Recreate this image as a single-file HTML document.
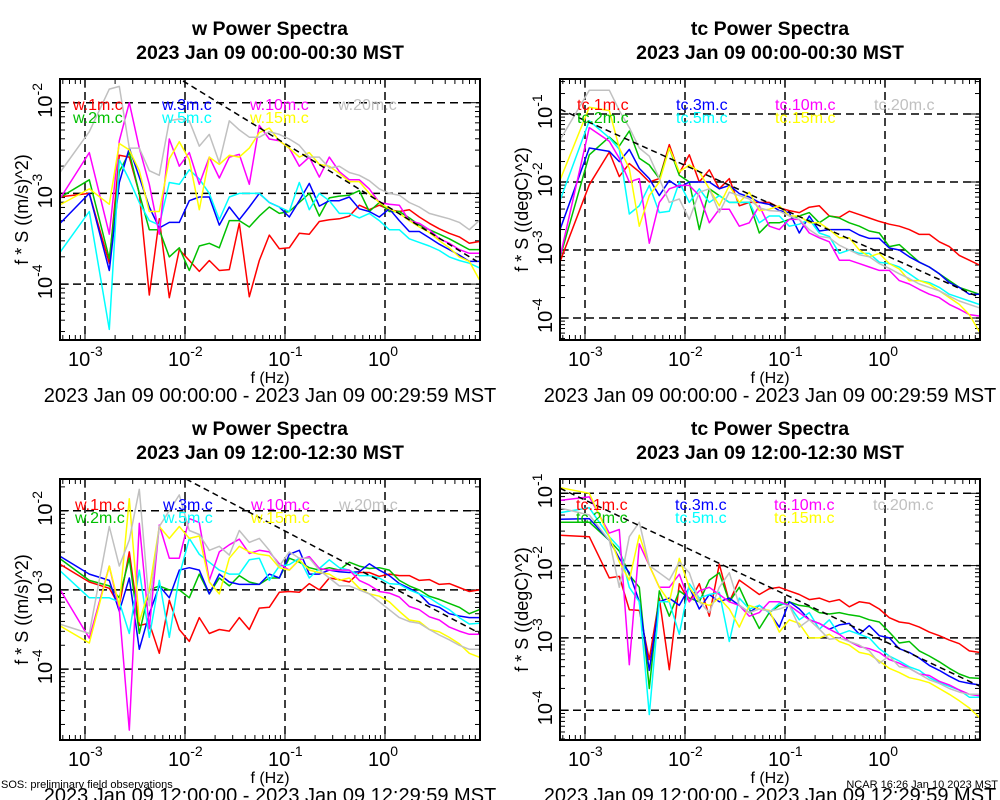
<!DOCTYPE html>
<html><head><meta charset="utf-8"><style>
html,body{margin:0;padding:0;background:#fff}
svg{display:block;font-family:"Liberation Sans",sans-serif}
</style></head><body>
<svg id="fig" width="1000" height="800" viewBox="0 0 1000 800" xmlns="http://www.w3.org/2000/svg">
<rect x="0" y="0" width="1000" height="800" fill="#fff"/>
<text x="1" y="788" font-size="11">SOS: preliminary field observations</text>
<text x="998" y="788" font-size="11" text-anchor="end">NCAR 16:26 Jan 10 2023 MST</text>
</svg>
<script>
// log10 frequency (Hz) of each spectral estimate
const freqLog = [-3.257,-2.957,-2.757,-2.657,-2.557,-2.457,-2.357,-2.257,-2.157,-2.057,-1.957,-1.857,-1.757,-1.657,-1.557,-1.457,-1.357,-1.257,-1.157,-1.057,-0.957,-0.857,-0.757,-0.657,-0.557,-0.457,-0.357,-0.257,-0.157,-0.057,0.043,0.143,0.243,0.343,0.443,0.543,0.643,0.743,0.843,0.943];
const seriesColors = ["#ff0000","#00c000","#0000ff","#00ffff","#ff00ff","#ffff00","#c0c0c0"];
const heights = ["1m","2m","3m","5m","10m","15m","20m"];
const xTickLabels = ["-3","-2","-1","0"];

// log10 of f*S, panel: w 00:00
const w00_1m = [-3.04,-3.00,-3.77,-2.58,-2.60,-3.00,-4.12,-3.28,-4.15,-3.62,-3.74,-3.86,-3.74,-3.85,-3.84,-3.33,-4.14,-3.74,-3.46,-3.61,-3.60,-3.44,-3.45,-3.31,-3.29,-3.28,-3.25,-3.13,-3.18,-3.13,-3.18,-3.20,-3.18,-3.26,-3.33,-3.39,-3.44,-3.48,-3.55,-3.53];
const w00_2m = [-3.05,-2.85,-3.72,-2.76,-2.55,-3.00,-3.40,-3.40,-3.70,-3.60,-3.85,-3.58,-3.55,-3.60,-3.30,-3.30,-3.37,-3.25,-3.15,-3.22,-3.20,-3.10,-3.00,-3.25,-3.05,-3.03,-3.02,-2.97,-3.20,-3.10,-3.20,-3.20,-3.27,-3.35,-3.40,-3.45,-3.50,-3.56,-3.62,-3.62];
const w00_3m = [-3.34,-3.00,-3.85,-2.88,-2.50,-2.82,-3.15,-3.38,-3.32,-3.32,-3.08,-3.04,-3.04,-3.35,-3.15,-3.29,-3.15,-3.00,-3.10,-3.15,-3.26,-3.08,-2.89,-3.14,-3.08,-3.08,-3.04,-3.17,-3.20,-3.26,-3.17,-3.30,-3.42,-3.42,-3.49,-3.56,-3.62,-3.68,-3.75,-3.75];
const w00_5m = [-3.66,-3.20,-4.50,-2.63,-2.85,-3.10,-3.30,-3.35,-2.88,-2.90,-2.74,-2.84,-3.00,-3.29,-3.04,-3.00,-3.00,-3.00,-3.10,-3.15,-3.20,-2.88,-3.18,-3.00,-3.08,-3.22,-3.22,-3.27,-3.22,-3.30,-3.40,-3.40,-3.50,-3.54,-3.58,-3.63,-3.70,-3.74,-3.77,-3.82];
const w00_10m = [-3.07,-2.55,-3.45,-2.42,-2.00,-2.50,-2.90,-3.45,-2.40,-2.70,-2.55,-2.90,-2.60,-2.83,-2.60,-2.57,-2.90,-2.25,-2.40,-2.42,-2.50,-2.70,-2.60,-2.82,-2.60,-2.76,-2.85,-2.85,-2.95,-3.10,-3.12,-3.13,-3.30,-3.33,-3.40,-3.50,-3.55,-3.62,-3.66,-3.66];
const w00_15m = [-3.13,-2.95,-3.12,-2.45,-2.52,-2.75,-3.20,-3.20,-2.62,-2.43,-2.63,-3.18,-2.60,-2.68,-2.58,-2.60,-2.50,-2.33,-2.28,-2.42,-2.50,-2.60,-2.55,-2.68,-2.70,-2.78,-2.87,-2.87,-3.00,-3.10,-3.17,-3.22,-3.30,-3.37,-3.43,-3.52,-3.60,-3.70,-3.75,-3.95];
const w00_20m = [-2.78,-2.32,-1.85,-1.82,-2.50,-2.50,-2.75,-2.80,-2.20,-2.18,-2.20,-2.48,-2.35,-2.66,-2.20,-2.30,-2.38,-2.38,-2.32,-2.35,-2.40,-2.47,-2.60,-2.60,-2.72,-2.70,-2.77,-2.80,-2.86,-2.95,-3.00,-3.02,-3.10,-3.15,-3.22,-3.25,-3.28,-3.32,-3.40,-3.30];

// panel: tc 00:00
const tc00_1m = [-3.20,-2.04,-1.56,-1.92,-1.73,-1.85,-2.00,-1.95,-1.45,-1.87,-1.60,-2.00,-1.82,-2.10,-1.95,-2.35,-2.30,-2.30,-2.30,-2.38,-2.42,-2.45,-2.37,-2.35,-2.50,-2.52,-2.43,-2.48,-2.53,-2.58,-2.62,-2.65,-2.70,-2.77,-2.77,-2.88,-2.95,-3.08,-3.15,-3.22];
const tc00_2m = [-3.15,-1.60,-1.34,-1.47,-1.25,-1.65,-1.75,-1.95,-1.50,-1.90,-2.00,-2.70,-2.10,-2.20,-2.30,-2.30,-2.30,-2.75,-2.60,-2.60,-2.55,-2.50,-2.45,-2.60,-2.50,-2.53,-2.60,-2.65,-2.72,-2.75,-2.95,-2.92,-3.05,-3.18,-3.25,-3.35,-3.45,-3.55,-3.60,-3.65];
const tc00_3m = [-2.73,-1.50,-1.55,-1.70,-1.52,-1.80,-1.95,-2.20,-1.98,-2.08,-2.00,-2.00,-2.00,-2.10,-2.05,-2.17,-2.22,-2.30,-2.33,-2.42,-2.45,-2.75,-2.50,-2.72,-2.70,-2.70,-2.70,-2.78,-2.83,-2.83,-2.97,-3.00,-3.10,-3.18,-3.25,-3.35,-3.48,-3.55,-3.65,-3.65];
const tc00_5m = [-2.30,-1.10,-1.35,-1.52,-2.47,-2.35,-2.05,-2.45,-2.43,-2.00,-2.30,-2.10,-2.30,-2.20,-2.30,-2.30,-2.30,-2.60,-2.50,-2.50,-2.65,-2.62,-2.55,-2.75,-2.80,-3.05,-3.00,-3.05,-3.05,-3.18,-3.20,-3.25,-3.35,-3.45,-3.48,-3.55,-3.65,-3.70,-3.75,-3.80];
const tc00_10m = [-3.15,-1.20,-1.40,-1.65,-2.00,-1.95,-2.90,-2.30,-2.10,-2.05,-2.05,-2.20,-2.60,-2.40,-2.40,-2.65,-2.60,-2.35,-2.65,-2.70,-2.55,-2.55,-2.75,-2.82,-2.88,-3.15,-3.15,-3.20,-3.25,-3.30,-3.30,-3.45,-3.50,-3.58,-3.65,-3.70,-3.80,-3.87,-3.95,-3.97];
const tc00_15m = [-2.00,-0.90,-0.95,-1.50,-1.80,-2.65,-2.20,-2.00,-1.50,-1.85,-1.75,-1.85,-2.10,-2.35,-2.05,-2.30,-2.15,-2.42,-2.40,-2.35,-2.50,-2.50,-2.60,-2.60,-2.70,-2.82,-2.82,-3.00,-3.10,-3.05,-3.20,-3.28,-3.45,-3.45,-3.50,-3.60,-3.70,-3.80,-3.95,-4.20];
const tc00_20m = [-1.40,-0.65,-0.65,-0.95,-1.20,-1.50,-1.62,-1.95,-2.30,-2.25,-2.55,-2.15,-2.10,-2.45,-2.15,-2.20,-2.25,-2.38,-2.42,-2.43,-2.50,-2.55,-2.70,-2.80,-2.82,-2.93,-3.00,-3.07,-3.10,-3.20,-3.27,-3.35,-3.42,-3.50,-3.55,-3.60,-3.68,-3.75,-3.80,-3.85];

// panel: w 12:00
const w12_1m = [-2.67,-2.90,-2.98,-3.20,-2.52,-3.45,-3.42,-3.80,-3.13,-3.50,-3.65,-3.35,-3.55,-3.50,-3.52,-3.35,-3.50,-3.23,-3.22,-3.03,-3.02,-3.03,-2.92,-3.00,-2.85,-2.87,-2.90,-2.78,-2.78,-2.83,-2.80,-2.82,-2.82,-2.88,-2.87,-2.93,-2.92,-2.97,-3.02,-3.00];
const w12_2m = [-2.60,-2.88,-2.95,-3.10,-2.60,-3.55,-3.00,-2.95,-3.00,-3.00,-3.10,-2.80,-3.05,-2.85,-2.95,-2.82,-2.90,-2.93,-2.85,-2.85,-2.60,-2.65,-2.72,-2.75,-2.72,-2.75,-2.65,-2.70,-2.73,-2.72,-2.75,-2.88,-2.95,-3.00,-3.08,-3.12,-3.17,-3.22,-3.30,-3.25];
const w12_3m = [-2.57,-2.80,-2.88,-3.27,-2.85,-3.75,-3.30,-2.95,-3.10,-2.75,-2.72,-2.75,-3.05,-2.80,-2.90,-2.93,-2.93,-2.93,-2.80,-2.85,-2.55,-2.50,-2.80,-2.80,-2.75,-2.77,-2.78,-2.77,-2.67,-2.75,-2.82,-2.92,-2.98,-3.05,-3.18,-3.22,-3.30,-3.33,-3.35,-3.35];
const w12_5m = [-2.75,-3.10,-3.10,-3.15,-3.55,-2.75,-3.60,-2.88,-3.60,-2.82,-2.35,-2.55,-2.65,-2.75,-2.80,-2.80,-2.62,-2.60,-2.88,-2.70,-2.68,-2.60,-2.85,-2.73,-2.62,-2.72,-2.75,-2.82,-2.82,-2.85,-2.92,-2.93,-3.00,-3.05,-3.10,-3.18,-3.25,-3.35,-3.43,-3.42];
const w12_10m = [-2.98,-3.61,-2.70,-3.25,-4.77,-2.16,-3.49,-2.18,-2.60,-2.60,-2.10,-2.15,-2.88,-2.52,-2.43,-2.36,-2.54,-2.50,-2.52,-2.67,-2.75,-2.62,-2.58,-2.73,-2.75,-2.75,-2.75,-2.88,-2.94,-3.02,-3.04,-3.09,-3.21,-3.25,-3.34,-3.38,-3.47,-3.52,-3.56,-3.56];
const w12_15m = [-3.45,-3.67,-2.70,-3.20,-1.85,-3.40,-3.00,-2.20,-2.35,-2.20,-2.35,-2.32,-2.90,-3.05,-2.60,-2.45,-2.52,-2.55,-2.57,-2.72,-2.75,-2.62,-2.75,-2.78,-2.80,-2.88,-2.85,-2.98,-3.05,-3.08,-3.15,-3.27,-3.38,-3.40,-3.50,-3.53,-3.60,-3.68,-3.80,-3.85];
const w12_20m = [-3.43,-3.55,-2.20,-2.70,-2.37,-1.73,-3.20,-2.20,-2.00,-1.80,-2.25,-2.30,-2.50,-2.45,-2.56,-2.25,-2.40,-2.35,-2.50,-2.70,-2.52,-2.60,-2.60,-2.75,-2.85,-2.95,-2.95,-3.00,-3.05,-3.15,-3.25,-3.35,-3.40,-3.42,-3.50,-3.57,-3.63,-3.70,-3.75,-3.75];

// panel: tc 12:00
const tc12_1m = [-1.58,-1.60,-2.17,-2.15,-2.61,-2.62,-3.30,-2.45,-3.44,-2.25,-2.50,-2.25,-2.70,-1.98,-2.50,-2.20,-2.30,-2.40,-2.32,-2.30,-2.35,-2.40,-2.47,-2.45,-2.50,-2.47,-2.57,-2.50,-2.52,-2.60,-2.72,-2.78,-2.80,-2.85,-2.92,-2.97,-3.03,-3.08,-3.18,-3.20];
const tc12_2m = [-1.40,-1.40,-1.65,-1.80,-2.13,-2.30,-3.70,-2.35,-2.70,-2.35,-2.45,-2.50,-2.20,-2.10,-2.50,-2.30,-2.60,-2.87,-2.65,-2.55,-2.50,-2.55,-2.57,-2.65,-2.67,-2.65,-2.68,-2.70,-2.75,-2.78,-2.92,-3.07,-3.05,-3.18,-3.25,-3.33,-3.42,-3.50,-3.55,-3.56];
const tc12_3m = [-1.36,-1.35,-1.65,-1.90,-2.10,-2.50,-3.45,-2.50,-2.45,-2.55,-2.30,-2.60,-2.40,-2.50,-2.45,-2.55,-2.65,-2.55,-2.65,-2.85,-2.50,-2.60,-2.75,-2.80,-2.88,-2.82,-2.80,-2.95,-2.83,-2.97,-3.00,-3.15,-3.20,-3.28,-3.38,-3.45,-3.53,-3.60,-3.63,-3.65];
const tc12_5m = [-1.27,-1.20,-1.60,-1.75,-2.30,-2.50,-4.06,-2.50,-2.50,-2.95,-2.25,-2.45,-2.40,-2.37,-3.05,-2.45,-2.60,-2.55,-2.65,-2.52,-2.55,-2.75,-2.65,-2.88,-2.75,-2.95,-2.90,-2.95,-3.00,-3.15,-3.25,-3.32,-3.40,-3.45,-3.55,-3.62,-3.67,-3.72,-3.82,-3.82];
const tc12_10m = [-1.10,-1.05,-1.55,-1.50,-3.37,-1.70,-2.00,-2.30,-2.30,-2.12,-2.50,-2.35,-2.30,-2.40,-2.50,-2.55,-2.70,-2.65,-2.50,-2.50,-2.55,-2.65,-2.75,-2.80,-2.88,-2.95,-3.05,-3.12,-3.15,-3.20,-3.30,-3.35,-3.42,-3.50,-3.52,-3.60,-3.65,-3.72,-3.78,-3.80];
const tc12_15m = [-0.92,-1.00,-1.60,-1.95,-2.20,-1.58,-2.00,-2.30,-2.50,-1.90,-2.30,-2.50,-2.55,-2.45,-2.60,-2.85,-2.55,-2.60,-2.62,-2.92,-2.75,-2.80,-3.00,-3.00,-2.95,-3.05,-3.10,-3.20,-3.23,-3.32,-3.42,-3.48,-3.55,-3.58,-3.62,-3.70,-3.78,-3.87,-3.97,-4.10];
const tc12_20m = [-1.20,-1.30,-1.65,-2.30,-1.60,-1.40,-2.00,-2.10,-2.20,-1.95,-2.10,-2.50,-2.65,-2.30,-2.10,-2.55,-2.65,-2.60,-2.63,-2.60,-2.55,-2.85,-2.75,-2.88,-3.02,-3.00,-3.05,-3.10,-3.18,-3.35,-3.25,-3.40,-3.42,-3.50,-3.58,-3.63,-3.70,-3.75,-3.78,-3.78];

// reference -2/3 slope lines: [logF0, logP0, logF1, logP1]
const refW00 = [-2.02,-1.76,0.92,-3.75];
const refTc00 = [-3.25,-0.93,0.95,-3.70];
const refW12 = [-1.99,-1.60,0.95,-3.55];
const refTc12 = [-3.25,-0.93,0.95,-3.67];

const NS="http://www.w3.org/2000/svg";
const svg=document.getElementById('fig');
function mk(tag,attrs,parent){const e=document.createElementNS(NS,tag);for(const k in attrs)e.setAttribute(k,attrs[k]);(parent||svg).appendChild(e);return e;}

const panels=[
 {key:"w00",x0:60,yRef:102.7,refDec:-2,ppd:90.7,top:79,bot:340,var:"w",unit:"((m/s)^2)",title:"w Power Spectra",sub:"2023 Jan 09 00:00-00:30 MST",range:"2023 Jan 09 00:00:00 - 2023 Jan 09 00:29:59 MST",yt:[-2,-3,-4],series:[w00_1m,w00_2m,w00_3m,w00_5m,w00_10m,w00_15m,w00_20m],ref:refW00,legX:[73,162,250,338]},
 {key:"tc00",x0:560,yRef:114,refDec:-1,ppd:68,top:79,bot:340,var:"tc",unit:"((degC)^2)",title:"tc Power Spectra",sub:"2023 Jan 09 00:00-00:30 MST",range:"2023 Jan 09 00:00:00 - 2023 Jan 09 00:29:59 MST",yt:[-1,-2,-3,-4],series:[tc00_1m,tc00_2m,tc00_3m,tc00_5m,tc00_10m,tc00_15m,tc00_20m],ref:refTc00,legX:[577,676,775,874]},
 {key:"w12",x0:60,yRef:510.7,refDec:-2,ppd:79.2,top:479,bot:740,var:"w",unit:"((m/s)^2)",title:"w Power Spectra",sub:"2023 Jan 09 12:00-12:30 MST",range:"2023 Jan 09 12:00:00 - 2023 Jan 09 12:29:59 MST",yt:[-2,-3,-4],series:[w12_1m,w12_2m,w12_3m,w12_5m,w12_10m,w12_15m,w12_20m],ref:refW12,legX:[75,163,251,339]},
 {key:"tc12",x0:560,yRef:493.3,refDec:-1,ppd:72.3,top:479,bot:740,var:"tc",unit:"((degC)^2)",title:"tc Power Spectra",sub:"2023 Jan 09 12:00-12:30 MST",range:"2023 Jan 09 12:00:00 - 2023 Jan 09 12:29:59 MST",yt:[-1,-2,-3,-4],series:[tc12_1m,tc12_2m,tc12_3m,tc12_5m,tc12_10m,tc12_15m,tc12_20m],ref:refTc12,legX:[576,675,774,873]}
];

panels.forEach(p=>{
  const g=mk('g',{});
  
  
  const xL=p.x0, xR=p.x0+420;
  const X=lf=>p.x0+25+100*(lf+3);
  const Y=lp=>p.yRef-(lp-p.refDec)*p.ppd;
  const cx=p.x0+210;
  const t1=mk('text',{x:cx,y:p.top-44,'font-size':19.5,'font-weight':'bold','text-anchor':'middle'},g);t1.textContent=p.title;
  
  const t2=mk('text',{x:cx,y:p.top-20,'font-size':19.5,'font-weight':'bold','text-anchor':'middle'},g);t2.textContent=p.sub;
  
  const cp=mk('clipPath',{id:'c'+p.key},g);mk('rect',{x:xL,y:p.top,width:420,height:p.bot-p.top},cp);
  xTickLabels.forEach(s=>{const d=+s;const x=X(d);
    const l=mk('line',{x1:x,x2:x,y1:p.top,y2:p.bot,stroke:'#000','stroke-width':1.5,'stroke-dasharray':'8,5'},g);
    
    const t=mk('text',{x:x-17,y:p.bot+26,'font-size':20},g);
    
    t.appendChild(document.createTextNode('10'));
    const sp=mk('tspan',{dy:-10,'font-size':14},t);sp.textContent=s;
  });
  p.yt.forEach(d=>{const y=Y(d);
    const l=mk('line',{x1:xL,x2:xR,y1:y,y2:y,stroke:'#000','stroke-width':1.5,'stroke-dasharray':'8,5'},g);
    
    const t=mk('text',{x:0,y:0,'font-size':20,transform:`translate(${xL-8},${y+15}) rotate(-90)`},g);
    
    t.appendChild(document.createTextNode('10'));
    const sp=mk('tspan',{dy:-10,'font-size':14},t);sp.textContent=String(d);
  });
  for(let d=-4;d<=1;d++)for(let m=1;m<10;m++){const lf=d+Math.log10(m);const x=X(lf);if(x<=xL||x>=xR)continue;const len=m===1?9:5;
    mk('line',{x1:x,x2:x,y1:p.bot,y2:p.bot-len,stroke:'#000','stroke-width':1},g);mk('line',{x1:x,x2:x,y1:p.top,y2:p.top+len,stroke:'#000','stroke-width':1},g);}
  for(let d=-6;d<=0;d++)for(let m=1;m<10;m++){const lp=d+Math.log10(m);const y=Y(lp);if(y<=p.top||y>=p.bot)continue;const len=m===1?9:5;
    mk('line',{x1:xL,x2:xL+len,y1:y,y2:y,stroke:'#000','stroke-width':1},g);mk('line',{x1:xR,x2:xR-len,y1:y,y2:y,stroke:'#000','stroke-width':1},g);}
  const sg=mk('g',{'clip-path':`url(#c${p.key})`},g);
  p.series.forEach((vals,i)=>{
    const pts=vals.map((v,j)=>X(freqLog[j]).toFixed(1)+','+Y(v).toFixed(1)).join(' ');
    const pl=mk('polyline',{points:pts,fill:'none',stroke:seriesColors[i],'stroke-width':1.5,'stroke-linejoin':'round'},sg);
    
    
  });
  const r=p.ref;
  const rl=mk('line',{x1:X(r[0]),y1:Y(r[1]),x2:X(r[2]),y2:Y(r[3]),stroke:'#000','stroke-width':1.5,'stroke-dasharray':'6,4'},sg);
  
  heights.forEach((h,i)=>{const col=Math.floor(i/2),row=i%2;let c=col,rw=row;
    if(i===6){c=3;rw=0;}
    const t=mk('text',{x:p.legX[c],y:(p.top+31)+rw*13,'font-size':16,fill:seriesColors[i]},g);
    t.textContent=p.var+'.'+h+'.c';
    
  });
  const fr=mk('rect',{x:xL,y:p.top,width:420,height:p.bot-p.top,fill:'none',stroke:'#000','stroke-width':2},g);
  
  const yt=mk('text',{x:0,y:0,'font-size':18,'text-anchor':'middle',transform:`translate(${xL-32},${(p.top+p.bot)/2}) rotate(-90)`},g);
  yt.textContent='f * S '+p.unit;
  
  const xt=mk('text',{x:cx,y:p.bot+43,'font-size':16,'text-anchor':'middle'},g);xt.textContent='f (Hz)';
  
  const rt=mk('text',{x:cx,y:p.bot+62,'font-size':20,'text-anchor':'middle'},g);rt.textContent=p.range;
  
});
</script>
</body></html>
